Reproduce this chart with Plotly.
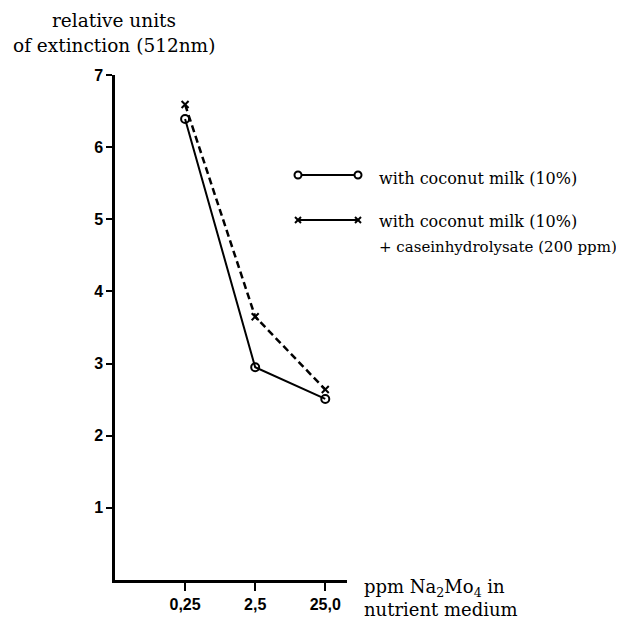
import plotly.graph_objects as go

categories = ["0,25", "2,5", "25,0"]
coconut = [6.39, 2.95, 2.51]
coconut_casein = [6.59, 3.65, 2.64]
y_ticks = [1, 2, 3, 4, 5, 6, 7]

x_pos = list(range(len(categories)))

OFF = 8  # page body margin
W, H = 624 - OFF, 620 - OFF
L, T = 115 - OFF, 75 - OFF
PW, PH = 232, 505
R, B = W - L - PW, H - T - PH

def px(x):
    return (x - OFF - L) / PW

def py(y):
    return (T + PH - (y - OFF)) / PH

serif = "DejaVu Serif"
fig = go.Figure()
fig.add_trace(go.Scatter(
    x=x_pos, y=coconut, mode="lines+markers", name="with coconut milk (10%)",
    line=dict(color="black", width=2),
    marker=dict(symbol="circle-open", size=8, color="black", line=dict(width=2)),
    showlegend=False))
fig.add_trace(go.Scatter(
    x=x_pos, y=coconut_casein, mode="lines+markers",
    name="with coconut milk (10%) + caseinhydrolysate (200 ppm)",
    line=dict(color="black", width=2.5, dash="7px,4px"),
    marker=dict(symbol="x-thin-open", size=7, color="black", line=dict(width=2, color="black")),
    showlegend=False))

fig.update_xaxes(
    range=[-1, 2.31], tickvals=x_pos, ticktext=categories,
    showline=True, linecolor="black", linewidth=2.5, ticks="outside", ticklen=8,
    tickwidth=2, tickcolor="black", showgrid=False, zeroline=False,
    tickfont=dict(family="Liberation Sans", size=16, color="black", weight="bold"))
fig.update_yaxes(
    range=[0, 7], tickvals=y_ticks, showline=True, linecolor="black", linewidth=2.5,
    ticks="outside", ticklen=6, tickwidth=2, tickcolor="black", showgrid=False, zeroline=False,
    tickfont=dict(family="Liberation Sans", size=16, color="black", weight="bold"))

# legend drawn manually
leg = [(175, "circle"), (220, "x")]
for yy, kind in leg:
    fig.add_shape(type="line", xref="paper", yref="paper", x0=px(298), x1=px(358),
                  y0=py(yy), y1=py(yy), line=dict(color="black", width=2))
    for xx in (298, 358):
        if kind == "circle":
            fig.add_shape(type="circle", xref="paper", yref="paper",
                          x0=px(xx - 3.5), x1=px(xx + 3.5), y0=py(yy + 3.5), y1=py(yy - 3.5),
                          line=dict(color="black", width=2), fillcolor="white")
        else:
            for d in (1, -1):
                fig.add_shape(type="line", xref="paper", yref="paper",
                              x0=px(xx - 3), x1=px(xx + 3), y0=py(yy - 3 * d), y1=py(yy + 3 * d),
                              line=dict(color="black", width=2))

def text(x, y, s, size, anchor="left"):
    fig.add_annotation(xref="paper", yref="paper", x=px(x), y=py(y), xanchor=anchor, yanchor="middle",
                       text=s, showarrow=False, font=dict(family=serif, size=size, color="black"))

text(377, 178, "with coconut milk (10%)", 16)
text(377, 221, "with coconut milk (10%)", 16)
text(377, 247, "+ caseinhydrolysate (200 ppm)", 15)

text(114, 21, "relative units", 18.5, "center")
text(114, 46, "of extinction (512nm)", 18.5, "center")
text(362, 588, "ppm Na<sub>2</sub>Mo<sub>4</sub> in", 18)
text(362, 609, "nutrient medium", 18)

fig.update_layout(width=W, height=H, margin=dict(l=L, r=R, t=T, b=B, autoexpand=False),
                  paper_bgcolor="white", plot_bgcolor="white", showlegend=False)
fig.write_html("out.html")
